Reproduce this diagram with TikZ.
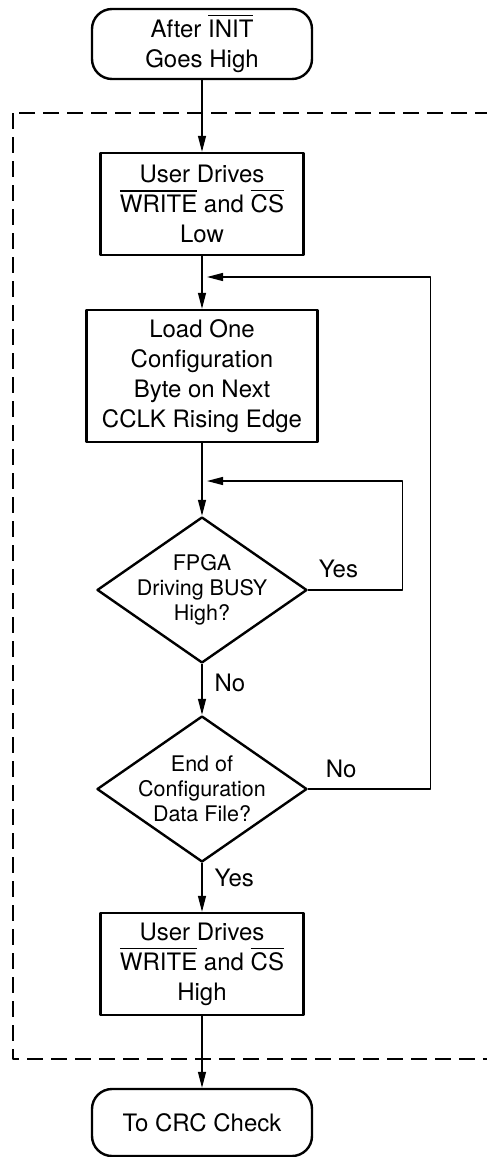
\documentclass[tikz,border=0pt]{standalone}
\usepackage{fontspec}
\setmainfont{TeX Gyre Heros}
\usetikzlibrary{shapes.geometric,arrows.meta}
\newcommand\ovl[1]{\leavevmode\vbox{\hrule height 1.1pt\kern 3.5pt\hbox{#1}}}
\begin{document}
\begin{tikzpicture}[x=1pt, y=-1pt, line join=round, >={Triangle[length=16pt,width=8pt]},
  font=\fontsize{24}{30}\selectfont,
  term/.style={draw, line width=2.4pt, rounded corners=20pt, minimum width=220pt, align=center, inner sep=0pt},
  proc/.style={draw, line width=2.4pt, align=center, inner sep=0pt},
  decision/.style={draw, diamond, line width=2.4pt, minimum width=210pt, minimum height=146pt, inner sep=0pt},
  dtext/.style={font=\fontsize{21.5}{25}\selectfont, align=center, inner sep=0pt},
  flow/.style={->, line width=1.3pt},
  answer/.style={inner sep=0pt}]
 \useasboundingbox (0,0) rectangle (487,1157);
 % dashed frame, runs past the right edge
 \draw[line width=2.4pt, dash pattern=on 16pt off 8pt] (13,113) rectangle (530,1059);
 \node[term, minimum height=70pt] (start) at (202,44) {After \ovl{INIT}\\Goes High};
 \node[proc, minimum width=203pt, minimum height=102pt] (low) at (202,204) {User Drives\\\ovl{WRITE} and \ovl{CS}\\Low};
 \node[proc, minimum width=231pt, minimum height=132pt] (load) at (202,376) {Load One\\Configuration\\Byte on Next\\CCLK Rising Edge};
 \node[decision, label={[dtext]center:{FPGA\\Driving BUSY\\High?}}] (busy) at (202,590) {};
 \node[decision, label={[dtext]center:{End of\\Configuration\\Data File?}}] (eof) at (202,789) {};
 \node[proc, minimum width=203pt, minimum height=102pt] (high) at (202,964) {User Drives\\\ovl{WRITE} and \ovl{CS}\\High};
 \node[term, minimum height=67pt] (crc) at (202,1122.5) {To CRC Check};
 \coordinate (busyin) at (207,481);
 \coordinate (loadin) at (207,277);
 % main flow
 \draw[flow] (start) -- (low);
 \draw[flow] (low) -- (load);
 \draw[flow] (load) -- (busy);
 \draw[flow] (busy) -- node[answer, anchor=west, pos=0.37, xshift=12pt]{No} (eof);
 \draw[flow] (eof) -- node[answer, anchor=west, pos=0.31, xshift=12pt]{Yes} (high);
 \draw[flow] (high) -- (crc);
 % loops back
 \draw[flow] (busy.east) -- node[answer, anchor=south west, pos=0, xshift=10pt, yshift=11pt]{Yes} ++(94,0) |- (busyin);
 \draw[flow] (eof.east) -- node[answer, anchor=south west, pos=0, xshift=17pt, yshift=11pt]{No} ++(122,0) |- (loadin);
\end{tikzpicture}
\end{document}
